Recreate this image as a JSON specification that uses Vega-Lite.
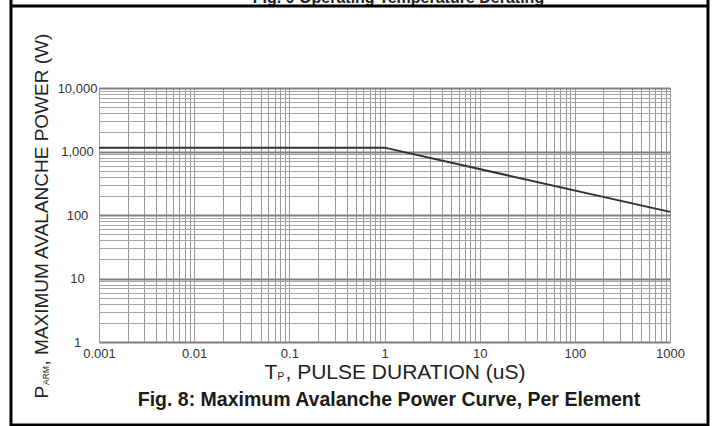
{
  "$schema": "https://vega.github.io/schema/vega-lite/v6.json",
  "width": 571,
  "height": 254,
  "autosize": {"type": "none"},
  "padding": {"left": 99, "top": 88, "right": 44, "bottom": 84},
  "background": "white",
  "config": {"font": "Liberation Sans", "view": {"stroke": null}},
  "title": {
    "text": "Fig. 8: Maximum Avalanche Power Curve, Per Element",
    "orient": "bottom",
    "frame": "group",
    "anchor": "middle",
    "offset": 0,
    "dy": -22,
    "dx": 4.5,
    "baseline": "alphabetic",
    "fontSize": 19.5,
    "fontWeight": "bold",
    "font": "Liberation Sans",
    "color": "#1a1a1a"
  },
  "data": {
    "values": [
      {"t": 0.001, "p": 1150},
      {"t": 1, "p": 1150},
      {"t": 1000, "p": 112}
    ]
  },
  "resolve": {"axis": {"x": "independent", "y": "independent"}},
  "layer": [
    {
      "mark": {"type": "line", "color": "#333333", "strokeWidth": 2},
      "encoding": {
        "x": {
          "field": "t", "type": "quantitative",
          "scale": {"type": "log", "domain": [0.001, 1000], "nice": false},
          "axis": {
            "orient": "bottom",
            "values": [0.001,0.002,0.003,0.004,0.005,0.006,0.007,0.008,0.009,0.01,0.02,0.03,0.04,0.05,0.06,0.07,0.08,0.09,0.1,0.2,0.3,0.4,0.5,0.6,0.7,0.8,0.9,1,2,3,4,5,6,7,8,9,10,20,30,40,50,60,70,80,90,100,200,300,400,500,600,700,800,900,1000],
            "labelExpr": "indexof([0.001,0.01,0.1,1,10,100,1000], datum.value) >= 0 ? format(datum.value, '~g') : ''",
            "labelFontSize": 13, "labelColor": "#333333", "labelPadding": 5,
            "labelOverlap": false, "labelFlush": false, "labelBound": false,
            "ticks": false, "tickSize": 0, "domain": false,
            "grid": true, "gridColor": "#999999", "gridWidth": 1,
            "title": ", PULSE DURATION (uS)",
            "titleFontSize": 21, "titleFontWeight": "normal", "titleColor": "#222222",
            "titleX": 186, "titleY": 36, "titleAlign": "left", "titleBaseline": "alphabetic", "titleAngle": 0
          }
        },
        "y": {
          "field": "p", "type": "quantitative",
          "scale": {"type": "log", "domain": [1, 10000], "nice": false},
          "axis": {
            "orient": "left",
            "values": [1,2,3,4,5,6,7,8,9,10,20,30,40,50,60,70,80,90,100,200,300,400,500,600,700,800,900,1000,2000,3000,4000,5000,6000,7000,8000,9000,10000],
            "labelExpr": "indexof([1,10,100,1000,10000], datum.value) >= 0 ? format(datum.value, ',') : ''",
            "labelAlign": "center", "labelBaseline": "middle", "labelPadding": 22,
            "labelFontSize": 13, "labelColor": "#333333",
            "labelOverlap": false, "labelFlush": false, "labelBound": false,
            "ticks": false, "tickSize": 0, "domain": false,
            "grid": true,
            "gridColor": {"condition": {"test": "indexof([1,10,100,1000,10000], datum.value) >= 0", "value": "#808080"}, "value": "#a6a6a6"},
            "gridWidth": {"condition": {"test": "indexof([1,10,100,1000,10000], datum.value) >= 0", "value": 2}, "value": 1},
            "title": ", MAXIMUM AVALANCHE POWER (W)",
            "titleFontSize": 19, "titleFontWeight": "normal", "titleColor": "#222222",
            "titleAngle": 270, "titleX": -52, "titleY": 277, "titleAlign": "left", "titleBaseline": "alphabetic"
          }
        }
      }
    },
    {
      "mark": {"type": "line", "opacity": 0},
      "encoding": {
        "x": {
          "field": "t", "type": "quantitative",
          "scale": {"type": "log", "domain": [0.001, 1000], "nice": false},
          "axis": {
            "orient": "bottom", "labels": false, "ticks": false, "domain": false, "grid": false,
            "title": "T", "titleFontSize": 21, "titleFontWeight": "normal", "titleColor": "#222222",
            "titleX": 165, "titleY": 36, "titleAlign": "left", "titleBaseline": "alphabetic", "titleAngle": 0
          }
        },
        "y": {
          "field": "p", "type": "quantitative",
          "scale": {"type": "log", "domain": [1, 10000], "nice": false},
          "axis": {
            "orient": "left", "labels": false, "ticks": false, "domain": false, "grid": false,
            "title": "P", "titleFontSize": 19, "titleFontWeight": "normal", "titleColor": "#222222",
            "titleAngle": 270, "titleX": -52, "titleY": 310, "titleAlign": "left", "titleBaseline": "alphabetic"
          }
        }
      }
    },
    {
      "mark": {"type": "line", "opacity": 0},
      "encoding": {
        "x": {
          "field": "t", "type": "quantitative",
          "scale": {"type": "log", "domain": [0.001, 1000], "nice": false},
          "axis": {
            "orient": "bottom", "labels": false, "ticks": false, "domain": false, "grid": false,
            "title": "P", "titleFontSize": 10, "titleFontWeight": "normal", "titleColor": "#222222",
            "titleX": 178, "titleY": 37, "titleAlign": "left", "titleBaseline": "alphabetic", "titleAngle": 0
          }
        },
        "y": {
          "field": "p", "type": "quantitative",
          "scale": {"type": "log", "domain": [1, 10000], "nice": false},
          "axis": {
            "orient": "left", "labels": false, "ticks": false, "domain": false, "grid": false,
            "title": "ARM", "titleFontSize": 8.5, "titleFontWeight": "normal", "titleColor": "#222222",
            "titleAngle": 270, "titleX": -51, "titleY": 296.5, "titleAlign": "left", "titleBaseline": "alphabetic"
          }
        }
      }
    },
    {
      "mark": {"type": "line", "opacity": 0},
      "encoding": {
        "x": {
          "field": "t", "type": "quantitative",
          "scale": {"type": "log", "domain": [0.001, 1000], "nice": false},
          "axis": {
            "orient": "top", "labels": false, "ticks": false, "domain": false, "grid": false,
            "title": "Fig. 9 Operating Temperature Derating", "titleFontSize": 16, "titleFontWeight": "bold", "titleColor": "#222222",
            "titleX": 299, "titleY": -85.5, "titleAlign": "center", "titleBaseline": "alphabetic", "titleAngle": 0
          }
        },
        "y": {
          "field": "p", "type": "quantitative",
          "scale": {"type": "log", "domain": [1, 10000], "nice": false},
          "axis": null
        }
      }
    },
    {
      "data": {"values": [{}]},
      "mark": {"type": "rule", "color": "#000000", "strokeWidth": 3},
      "encoding": {
        "x": {"datum": 0.0001189, "type": "quantitative", "scale": {"type": "log", "domain": [0.001, 1000], "nice": false}, "axis": null},
        "y": {"datum": 243100, "type": "quantitative", "scale": {"type": "log", "domain": [1, 10000], "nice": false}, "axis": null},
        "y2": {"datum": 0.04754}
      }
    },
    {
      "data": {"values": [{}]},
      "mark": {"type": "rule", "color": "#000000", "strokeWidth": 3},
      "encoding": {
        "x": {"datum": 2507, "type": "quantitative", "scale": {"type": "log", "domain": [0.001, 1000], "nice": false}, "axis": null},
        "y": {"datum": 243100, "type": "quantitative", "scale": {"type": "log", "domain": [1, 10000], "nice": false}, "axis": null},
        "y2": {"datum": 0.04754}
      }
    },
    {
      "data": {"values": [{}]},
      "mark": {"type": "rule", "color": "#000000", "strokeWidth": 3},
      "encoding": {
        "x": {"datum": 0.0001189, "type": "quantitative", "scale": {"type": "log", "domain": [0.001, 1000], "nice": false}, "axis": null},
        "x2": {"datum": 2507},
        "y": {"datum": 195600, "type": "quantitative", "scale": {"type": "log", "domain": [1, 10000], "nice": false}, "axis": null}
      }
    },
    {
      "data": {"values": [{}]},
      "mark": {"type": "rule", "color": "#000000", "strokeWidth": 3},
      "encoding": {
        "x": {"datum": 0.0001189, "type": "quantitative", "scale": {"type": "log", "domain": [0.001, 1000], "nice": false}, "axis": null},
        "x2": {"datum": 2507},
        "y": {"datum": 0.0493, "type": "quantitative", "scale": {"type": "log", "domain": [1, 10000], "nice": false}, "axis": null}
      }
    }
  ]
}
